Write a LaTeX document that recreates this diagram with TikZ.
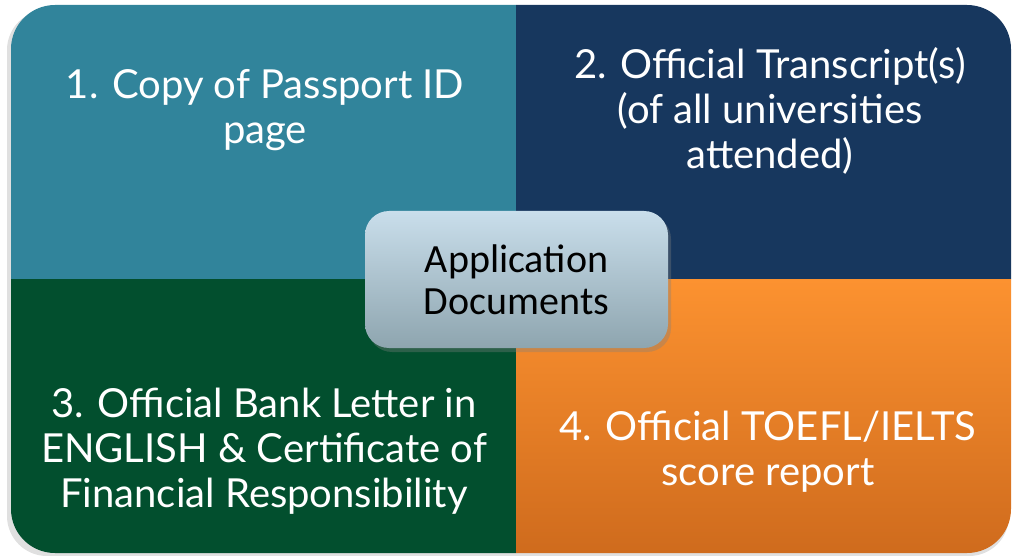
\documentclass[tikz,border=0pt]{standalone}
\usepackage{fontspec}
\setmainfont{Lato}
\newfontfamily\boxfont{Carlito}
\usetikzlibrary{shadows}
\definecolor{tealq}{HTML}{31849B}
\definecolor{navyq}{HTML}{17375E}
\definecolor{greenq}{HTML}{024F2E}
\definecolor{orangetop}{HTML}{FC9230}
\definecolor{orangebot}{HTML}{CF6B1D}
\definecolor{boxtop}{HTML}{C9DEEB}
\definecolor{boxbot}{HTML}{8EA5AF}
\tikzset{
  quadtext/.style={text=white, align=center, font=\fontsize{20}{22.5}\selectfont},
  centerbox/.style={rounded corners=12pt, top color=boxtop, bottom color=boxbot,
    minimum width=151.5pt, minimum height=68.5pt, align=center,
    font=\boxfont\fontsize{20}{21}\selectfont,
    drop shadow={shadow xshift=1.5pt, shadow yshift=-2pt, opacity=0.35}},
  quadshadow/.style={fill=black!12}
}
\begin{document}
\begin{tikzpicture}[x=0.5pt, y=-0.5pt]
	%%%%% START %%%%%
	\useasboundingbox (0,0) rectangle (1013,556);
	
	% soft shadow under the four blocks
	\fill[quadshadow, rounded corners=20pt] (7,10) rectangle (1009,556);
	
	% quadrants
	\fill[tealq] (11,279) [rounded corners=22pt] -- (11,5) [sharp corners] -- (516,5) -- (516,279) -- cycle;
	\fill[navyq] (516,5) [rounded corners=22pt] -- (1011,5) [sharp corners] -- (1011,279) -- (516,279) -- cycle;
	\fill[greenq] (516,279) -- (11,279) [rounded corners=22pt] -- (11,553) [sharp corners] -- (516,553) -- cycle;
	\shade[top color=orangetop, bottom color=orangebot] (516,279) -- (1011,279) [rounded corners=22pt] -- (1011,553) [sharp corners] -- (516,553) -- cycle;
	
	% texts
	\node[quadtext] (passport) at (265,110.5) {1. Copy of Passport ID\\page};
	\node[quadtext] (transcript) at (770,110.5) {2. Official Transcript(s)\\(of all universities\\attended)};
	\node[quadtext] (bank) at (264,451.5) {3. Official Bank Letter in\\ENGLISH \& Certificate of\\Financial Responsibility};
	\node[quadtext] (toefl) at (768,451.5) {4. Official TOEFL/IELTS\\score report};
	
	% center
	\node[centerbox] (app) at (516.5,279.5) {Application\\Documents};
	%%%%% END %%%%%
\end{tikzpicture}
\end{document}
